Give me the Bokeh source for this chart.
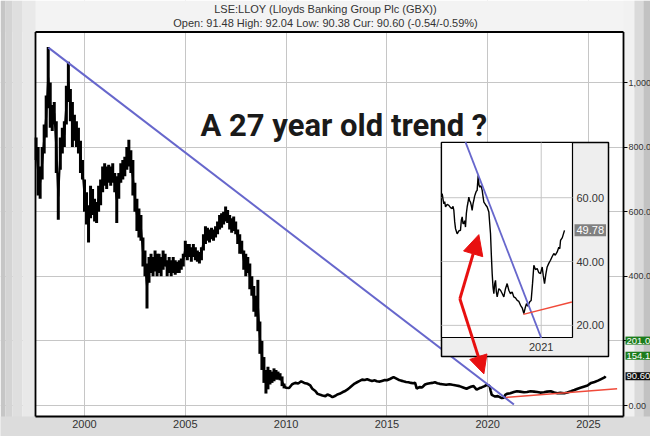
from bokeh.plotting import figure
from bokeh.models import Range1d, FixedTicker, Label, Arrow, NormalHead
from bokeh.embed import file_html
from bokeh.resources import INLINE
from bokeh.core.properties import value

# ---------------- data ----------------
title_line1 = "LSE:LLOY (Lloyds Banking Group Plc (GBX))"
title_line2 = "Open: 91.48 High: 92.04 Low: 90.38 Cur: 90.60 (-0.54/-0.59%)"
headline = "A 27 year old trend ?"

# early period: period ranges (low / high) sampled every 0.1 year
bar_years = [round(1997.6 + 0.1 * i, 1) for i in range(124)]
bar_lows = [760, 650, 640, 700,
            780, 830, 920, 860, 850, 870, 720, 575, 730, 780,
            800, 870, 940, 880, 800, 820, 800, 780, 720, 700,
            600, 560, 505, 580, 590, 570, 565, 600, 620, 660,
            680, 670, 690, 680, 690, 660, 565, 640, 690, 700,
            710, 730, 740, 720, 650, 600, 540, 520, 510, 430,
            400, 300, 380, 410, 400, 415, 400, 410, 400, 420,
            430, 400, 410, 400, 410, 405, 410, 410, 420, 430,
            460, 450, 460, 445, 460, 450, 445, 440, 450, 480,
            500, 510, 505, 515, 510, 520, 530, 545, 550, 560,
            570, 565, 545, 535, 540, 530, 500, 470, 470, 420,
            400, 410, 360, 340, 290, 275, 230, 160, 110, 70,
            37, 50, 65, 70, 75, 80, 80, 78, 60, 53]
bar_highs = [830, 800, 740, 800,
             870, 960, 1110, 1000, 930, 940, 880, 720, 830, 860,
             880, 990, 1064, 980, 940, 900, 880, 860, 820, 760,
             700, 660, 620, 680, 670, 640, 630, 680, 700, 740,
             750, 740, 745, 740, 750, 720, 710, 720, 750, 760,
             770, 800, 823, 790, 760, 690, 640, 610, 590, 520,
             480, 440, 460, 470, 460, 480, 470, 470, 460, 480,
             470, 450, 460, 450, 460, 450, 445, 450, 455, 470,
             510, 500, 500, 490, 500, 490, 480, 475, 490, 530,
             555, 550, 545, 550, 545, 555, 570, 590, 595, 600,
             616, 605, 590, 580, 585, 570, 545, 530, 510, 480,
             470, 460, 440, 400, 370, 340, 389, 260, 200, 150,
             110, 120, 110, 105, 115, 110, 105, 100, 90, 68]
bar_mids = [(lo + hi) / 2 for lo, hi in zip(bar_lows, bar_highs)]

# later period: closing prices
close_years = [2009.9, 2010.0, 2010.15, 2010.3, 2010.45, 2010.6, 2010.75, 2010.9,
               2011.07, 2011.2, 2011.3, 2011.45, 2011.56, 2011.7, 2011.8, 2011.95,
               2012.05, 2012.2, 2012.3, 2012.45, 2012.54, 2012.65, 2012.79, 2012.9,
               2013.03, 2013.15, 2013.28, 2013.4, 2013.52, 2013.65, 2013.77, 2013.9,
               2014.02, 2014.15, 2014.26, 2014.4, 2014.5, 2014.65, 2014.75, 2014.9,
               2015.0, 2015.15, 2015.33, 2015.45, 2015.57, 2015.7, 2015.82, 2015.95,
               2016.07, 2016.2, 2016.3, 2016.4, 2016.48, 2016.55, 2016.64, 2016.75, 2016.89,
               2017.0, 2017.13, 2017.25, 2017.38, 2017.5, 2017.62, 2017.75, 2017.94,
               2018.1, 2018.25, 2018.44, 2018.6, 2018.78, 2018.95,
               2019.05, 2019.2, 2019.3, 2019.45, 2019.6, 2019.7, 2019.85, 2019.95,
               2020.05, 2020.1, 2020.15, 2020.2, 2020.3, 2020.37, 2020.5, 2020.6, 2020.7, 2020.8, 2020.87, 2020.95,
               2021.12, 2021.3, 2021.45, 2021.6, 2021.8, 2021.95,
               2022.12, 2022.3, 2022.46, 2022.6, 2022.79, 2022.95,
               2023.13, 2023.3, 2023.46, 2023.6, 2023.8, 2023.95,
               2024.13, 2024.3, 2024.46, 2024.6, 2024.8, 2024.95,
               2025.13, 2025.3, 2025.47, 2025.6, 2025.8, 2025.85]
closes = [60, 55, 54, 66, 70, 68, 75, 70,
          67, 62, 52, 45, 36, 33, 31, 29,
          34, 30, 26, 30, 34, 36, 41, 44,
          49, 55, 62, 68, 72, 76, 80, 79,
          81, 78, 76, 78, 75, 74, 76, 79,
          78, 82, 88, 84, 80, 77, 75, 73,
          72, 70, 69, 70, 52, 55, 57, 56, 65,
          67, 69, 70, 72, 69, 67, 66, 64,
          66, 64, 62, 60, 56, 52,
          55, 59, 60, 49, 54, 56, 60, 64,
          62, 59, 45, 33, 30, 28, 29, 26, 23, 24, 33, 36,
          38, 42, 44, 43, 41, 42,
          44, 43, 42, 40, 41, 43,
          44, 40, 38, 39, 38, 40,
          44, 48, 52, 55, 59, 62,
          70, 73, 77, 81, 87, 90.6]

# trend lines (main chart)
blue_x = [1998.21, 2021.30]
blue_y = [1108, 3]
red_x = [2020.9, 2026.42]
red_y = [25, 52]

# price tags on the right axis
tag_values = [201.0, 154.1, 90.60]
tag_texts = ["201.0", "154.1", "90.60"]
tag_colors = ["#1c7c1c", "#1c7c1c", "#111111"]

# arrows (main chart coordinates)
arrow_start = (2018.62, 330)
arrow_up_end = (2019.56, 529)
arrow_down_end = (2019.81, 98)

x_ticks = [2000, 2005, 2010, 2015, 2020, 2025]
y_ticks = [0, 200, 400, 600, 800, 1000]
y_labels = {0: "0.00", 200: "", 400: "400.0", 600: "600.0", 800: "800.0", 1000: "1,000"}

# inset chart data
inset_years = [2019.453, 2019.466, 2019.479, 2019.492, 2019.505, 2019.53, 2019.557, 2019.583,
               2019.609, 2019.622, 2019.635, 2019.648, 2019.661, 2019.687, 2019.713, 2019.739,
               2019.752, 2019.765, 2019.778, 2019.791, 2019.804, 2019.817, 2019.83, 2019.843,
               2019.856, 2019.869, 2019.882, 2019.895, 2019.908, 2019.921, 2019.934, 2019.947,
               2019.96, 2019.973, 2019.986, 2019.999, 2020.015, 2020.028, 2020.041, 2020.06,
               2020.078, 2020.09, 2020.104, 2020.13, 2020.156, 2020.182, 2020.195, 2020.208,
               2020.221, 2020.234, 2020.247, 2020.26, 2020.273, 2020.286, 2020.299, 2020.312,
               2020.338, 2020.364, 2020.39, 2020.416, 2020.442, 2020.468, 2020.494, 2020.52,
               2020.546, 2020.572, 2020.598, 2020.625, 2020.651, 2020.677, 2020.703, 2020.729,
               2020.75, 2020.77, 2020.79, 2020.807, 2020.825, 2020.843, 2020.864, 2020.885,
               2020.91, 2020.937, 2020.963, 2020.989, 2021.015, 2021.033, 2021.052, 2021.072,
               2021.093, 2021.12, 2021.145, 2021.17, 2021.197, 2021.22, 2021.25, 2021.275,
               2021.29, 2021.302, 2021.33, 2021.364]
inset_prices = [61.3, 59.5, 58.1, 58.8, 57.1, 57.9, 57.6, 56.9,
                56.6, 57.3, 56.0, 52.5, 50.3, 48.7, 49.6, 49.8,
                53.0, 54.0, 51.9, 51.9, 52.8, 50.8, 55.0, 57.1,
                58.5, 60.2, 59.0, 58.6, 57.5, 56.0, 58.0, 59.2,
                60.5, 61.3, 62.0, 62.3, 67.0, 64.0, 63.3, 63.8,
                62.3, 60.5, 58.6, 57.8, 57.1, 55.5, 52.0, 48.7,
                42.0, 36.2, 32.0, 29.9, 33.0, 34.1, 30.5, 28.9,
                31.5, 31.0, 30.0, 28.9, 31.5, 33.1, 31.0, 29.9,
                30.5, 28.9, 28.6, 27.8, 27.5, 26.3, 25.5, 23.7,
                25.5, 26.8, 26.0, 26.8, 27.5, 27.8, 33.0, 38.8,
                37.5, 37.8, 36.5, 36.2, 38.3, 35.5, 33.1, 36.0,
                38.3, 39.5, 40.4, 41.5, 42.5, 42.0, 43.0, 44.5,
                44.0, 46.6, 47.5, 49.78]
inset_blue_x = [2019.817, 2021.0]
inset_blue_y = [77.4, 16.1]
inset_red_x = [2020.72, 2021.48]
inset_red_y = [23.45, 27.3]
inset_y_ticks = [20, 40, 60]
inset_y_labels = ["20.00", "40.00", "60.00"]
inset_x_ticks = [2021]
inset_x_labels = ["2021"]
inset_last = 49.78

# ---------------- layout ----------------
W, H = 650, 436
PX_YEAR, PX_2000 = 20.16, 84.0     # horizontal pixel scale
PX_UNIT, PX_ZERO = 0.323, 405.0    # vertical pixel scale


def xd(px):   # canvas pixel -> year
    return 2000 + (px - PX_2000) / PX_YEAR


def yd(py):   # canvas pixel -> price
    return (PX_ZERO - py) / PX_UNIT


X0, X1 = xd(0), xd(W)
Y0, Y1 = yd(H), yd(0)
# the chart box (framed area)
BX0, BX1 = xd(35), xd(623)
BY0, BY1 = yd(416), yd(31.5)
# inset placement
ins_left, ins_plot_right, ins_right = xd(441), xd(572), xd(608)
ins_bottom, ins_plot_bottom, ins_top = yd(356), yd(337), yd(142)
# inset data window
ix0, ix1 = 2019.442, 2021.489
iy0, iy1 = 16.2, 77.3


def extend(a0, a1, m0, m1, u0, u1):
    k = (a1 - a0) / (u1 - u0)
    return a0 - (u0 - m0) * k, a1 + (m1 - u1) * k


ixs, ixe = extend(ix0, ix1, X0, X1, ins_left, ins_plot_right)
iys, iye = extend(iy0, iy1, Y0, Y1, ins_plot_bottom, ins_top)

FONT = "Liberation Sans"
GRID = "#c6c6c6"

p = figure(width=W, height=H, output_backend="svg", toolbar_location=None,
           x_range=Range1d(X0, X1), y_range=Range1d(Y0, Y1),
           y_axis_location="right", title=None,
           min_border_left=0, min_border_right=0, min_border_top=0, min_border_bottom=0,
           background_fill_color="white", border_fill_color="#f1f1f1",
           outline_line_color=None)
p.extra_x_ranges = {"ix": Range1d(ixs, ixe)}
p.extra_y_ranges = {"iy": Range1d(iys, iye)}

# axes, pinned to the edges of the chart box
p.xaxis.fixed_location = BY0
p.xaxis.ticker = FixedTicker(ticks=x_ticks)
p.xaxis.major_tick_out = 0
p.xaxis.major_tick_in = 0
p.xaxis.minor_tick_out = 0
p.xaxis.minor_tick_in = 0
p.xaxis.axis_line_color = None
p.xaxis.major_label_standoff = 3
p.xaxis.major_label_text_font_size = "11px"
p.xaxis.major_label_text_font = FONT
p.xaxis.major_label_text_color = "#333333"

p.yaxis.fixed_location = BX1
p.yaxis.ticker = FixedTicker(ticks=y_ticks)
p.yaxis.major_label_overrides = y_labels
p.yaxis.major_tick_out = 4
p.yaxis.major_tick_in = 0
p.yaxis.minor_tick_out = 0
p.yaxis.minor_tick_in = 0
p.yaxis.axis_line_color = None
p.yaxis.major_tick_line_color = "black"
p.yaxis.major_label_standoff = 1
p.yaxis.major_label_text_font_size = "9px"
p.yaxis.major_label_text_font = FONT
p.yaxis.major_label_text_color = "#333333"

p.xgrid.grid_line_color = GRID
p.ygrid.grid_line_color = GRID

# bevelled surround of the chart box
band_color = ["#f3f3f3",                                        # top
              "#c6c6c6", "#d4d4d4", "#dfdfdf", "#e9e9e9",      # left
              "#f1f1f1", "#dadada", "#c2c2c2",                  # right
              "#dcdcdc", "#c6c6c6"]                             # bottom
band_l = [X0, xd(0), xd(5), xd(12), xd(22), BX1, xd(634), xd(643), X0, X0]
band_r = [X1, xd(5), xd(12), xd(22), BX0, X1, xd(643), X1, X1, X1]
band_b = [BY1, Y0, Y0, Y0, Y0, Y0, Y0, Y0, Y0, yd(430)]
band_t = [Y1, Y1, Y1, Y1, Y1, Y1, Y1, Y1, BY0, yd(430)]
p.quad(left=band_l, right=band_r, bottom=band_b, top=band_t,
       fill_color=band_color, line_color=None)

# main series
p.segment(bar_years, bar_lows, bar_years, bar_highs, line_color="black", line_width=3)
p.line(bar_years, bar_mids, line_color="black", line_width=2)
p.line(close_years, closes, line_color="black", line_width=2.6)

# trend lines
p.line(blue_x, blue_y, line_color="#6767cc", line_width=2)
p.line(red_x, red_y, line_color="#f04a3a", line_width=1.5)

# chart box outline
p.segment(x0=[BX0, BX0, BX0, BX1], y0=[BY0, BY1, BY0, BY0],
          x1=[BX1, BX1, BX0, BX1], y1=[BY0, BY1, BY1, BY1],
          line_color="black", line_width=1.8)

# ---------------- inset ----------------
p.quad(left=[ins_left], right=[ins_right], bottom=[ins_bottom], top=[ins_top],
       fill_color="#eeeeee", line_color="black", line_width=1.5)
p.quad(left=[ins_left], right=[ins_plot_right], bottom=[ins_plot_bottom], top=[ins_top],
       fill_color="white", line_color="black", line_width=1.2)
p.segment([ix0] * len(inset_y_ticks), inset_y_ticks, [ix1] * len(inset_y_ticks), inset_y_ticks,
          x_range_name="ix", y_range_name="iy", line_color=GRID, line_width=1)
p.segment(inset_x_ticks, [iy0] * len(inset_x_ticks), inset_x_ticks, [iy1] * len(inset_x_ticks),
          x_range_name="ix", y_range_name="iy", line_color=GRID, line_width=1)
p.line(inset_years, inset_prices, x_range_name="ix", y_range_name="iy",
       line_color="black", line_width=1.4)
p.line(inset_blue_x, inset_blue_y, x_range_name="ix", y_range_name="iy",
       line_color="#6767cc", line_width=1.8)
p.line(inset_red_x, inset_red_y, x_range_name="ix", y_range_name="iy",
       line_color="#f04a3a", line_width=1.5)
p.text(x=[ins_plot_right] * len(inset_y_ticks), y=inset_y_ticks, text=inset_y_labels,
       y_range_name="iy", x_offset=4, text_align="left", text_baseline="middle",
       text_font_size="11px", text_font=value(FONT), text_color="#333333")
p.text(x=inset_x_ticks, y=[(ins_bottom + ins_plot_bottom) / 2] * len(inset_x_ticks),
       text=inset_x_labels, x_range_name="ix", text_align="center", text_baseline="middle",
       text_font_size="11px", text_font=value(FONT), text_color="#333333")

p.add_layout(Label(x=ins_plot_right, y=inset_last, y_range_name="iy", x_offset=2,
                   text=f"{inset_last:.2f}", text_align="left", text_baseline="middle",
                   text_font_size="11px", text_font=FONT, text_color="white",
                   background_fill_color="#808080", padding=2))

# title lines
for txt, py in ((title_line1, 8), (title_line2, 22)):
    p.add_layout(Label(x=xd(W / 2), y=yd(py), text=txt, text_align="center",
                       text_baseline="middle", text_font=FONT, text_font_size="11px",
                       text_color="#333333"))

# headline text
p.add_layout(Label(x=xd(200), y=yd(125), text=headline,
                   text_font="Roboto", text_font_style="bold",
                   text_font_size="31px", text_color="#1a1a1a",
                   text_align="left", text_baseline="alphabetic"))

# price tags just right of the chart box
for v, t, c in zip(tag_values, tag_texts, tag_colors):
    p.add_layout(Label(x=BX1, y=v, x_offset=2, text=t,
                       text_align="left", text_baseline="middle",
                       text_font_size="9.5px", text_font=FONT, text_color="white",
                       background_fill_color=c, padding=1))

# red arrows
p.add_layout(Arrow(x_start=arrow_start[0], y_start=arrow_start[1],
                   x_end=arrow_up_end[0], y_end=arrow_up_end[1],
                   line_color="#e81010", line_width=3,
                   end=NormalHead(size=20, fill_color="#e81010", line_color="#e81010")))
p.add_layout(Arrow(x_start=arrow_start[0], y_start=arrow_start[1],
                   x_end=arrow_down_end[0], y_end=arrow_down_end[1],
                   line_color="#e81010", line_width=3,
                   end=NormalHead(size=18, fill_color="#e81010", line_color="#e81010")))

open("out.html", "w").write(file_html(p, INLINE))
